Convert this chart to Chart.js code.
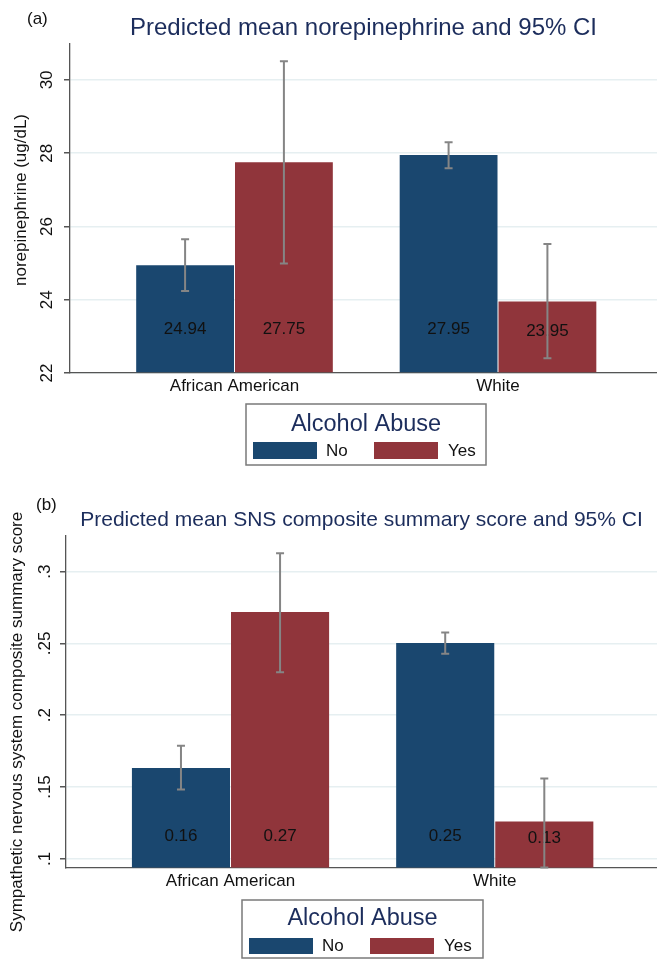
<!DOCTYPE html>
<html><head><meta charset="utf-8">
<script src="https://cdn.jsdelivr.net/npm/chart.js@4.4.1/dist/chart.umd.min.js"></script>
<style>
html,body{margin:0;padding:0;background:#fff;overflow:hidden;width:657px;height:960px}
#wa{position:absolute;left:0;top:0;width:657px;height:490px}
#wb{position:absolute;left:0;top:490px;width:657px;height:470px}
</style></head><body>
<div id="wa"><canvas id="ca"></canvas></div>
<div id="wb"><canvas id="cb"></canvas></div>
<script>
// ---- data ----
const categories = ['African American', 'White'];
const groupLabels = ['No', 'Yes'];
const legendTitle = 'Alcohol Abuse';

const neMeanNo  = [24.94, 27.95];
const neMeanYes = [27.75, 23.95];
const neLoNo  = [24.24, 27.59];
const neHiNo  = [25.65, 28.30];
const neLoYes = [24.99, 22.40];
const neHiYes = [30.51, 25.52];
const neTicks = [22, 24, 26, 28, 30];
const neTickLabels = ['22', '24', '26', '28', '30'];

const snsMeanNo  = [0.1633, 0.2502];
const snsMeanYes = [0.2718, 0.126];
const snsLoNo  = [0.1482, 0.2428];
const snsHiNo  = [0.1788, 0.2576];
const snsLoYes = [0.2300, 0.0940];
const snsHiYes = [0.3128, 0.1560];
const snsTicks = [0.1, 0.15, 0.2, 0.25, 0.3];
const snsTickLabels = ['.1', '.15', '.2', '.25', '.3'];

// ---- style ----
const FONT = "'Liberation Sans', Arial, sans-serif";
const NAVY = '#1a476f';
const MAROON = '#90353b';
const TITLE_COLOR = '#1c2d5c';
const AXIS_COLOR = '#555555';

const specs = {
  ca: {
    panel: '(a)', panelX: 27, panelY: 19,
    title: 'Predicted mean norepinephrine and 95% CI', titleSize: 24, titleY: 28,
    ytitle: 'norepinephrine (ug/dL)', ytitleX: 21, ytitleY: 200,
    ticks: neTicks, tickLabels: neTickLabels, tickLabelX: 47,
    ymin: 22, ymax: 30.98, axisX: 70, xmin: 0.3757, xmax: 2.6034,
    padTop: 44, padBottom: 87, labelAt: 23.2,
    no: neMeanNo, yes: neMeanYes, loNo: neLoNo, hiNo: neHiNo, loYes: neLoYes, hiYes: neHiYes,
    legend: {left: 246, top: 404, w: 240, h: 61, titleY: 425, swY: 442, swH: 17, textY: 451}
  },
  cb: {
    panel: '(b)', panelX: 36, panelY: 15,
    title: 'Predicted mean SNS composite summary score and 95% CI', titleSize: 21, titleY: 30,
    ytitle: 'Sympathetic nervous system composite summary score', ytitleX: 17, ytitleY: 232,
    ticks: snsTicks, tickLabels: snsTickLabels, tickLabelX: 45,
    ymin: 0.0938, ymax: 0.3248, axisX: 66, xmin: 0.3774, xmax: 2.614,
    padTop: 46, padBottom: 62.3, labelAt: 0.1155,
    no: snsMeanNo, yes: snsMeanYes, loNo: snsLoNo, hiNo: snsHiNo, loYes: snsLoYes, hiYes: snsHiYes,
    legend: {left: 242, top: 410, w: 241, h: 58, titleY: 429, swY: 448, swH: 16, textY: 456}
  }
};

const overlay = {
  id: 'overlay',
  afterDatasetsDraw(chart) {
    const sp = specs[chart.canvas.id];
    const ctx = chart.ctx, ys = chart.scales.y, ca = chart.chartArea;
    ctx.save();
    // value labels
    ctx.fillStyle = '#111';
    ctx.font = `17px ${FONT}`;
    ctx.textAlign = 'center';
    ctx.textBaseline = 'middle';
    chart.data.datasets.forEach((d, di) => {
      chart.getDatasetMeta(di).data.forEach((bar, i) => {
        const base = Math.min(bar.base, ca.bottom);
        const ly = Math.max(ys.getPixelForValue(sp.labelAt), (bar.y + base) / 2 - 6);
        ctx.fillText(d.data[i].y.toFixed(2), bar.x, ly);
      });
    });
    // error bars
    ctx.strokeStyle = '#858585';
    ctx.lineWidth = 2;
    chart.data.datasets.forEach((d, di) => {
      chart.getDatasetMeta(di).data.forEach((bar, i) => {
        const y1 = ys.getPixelForValue(d.lo[i]);
        const y2 = ys.getPixelForValue(d.hi[i]);
        ctx.beginPath();
        ctx.moveTo(bar.x, y1); ctx.lineTo(bar.x, y2);
        ctx.moveTo(bar.x - 4, y1); ctx.lineTo(bar.x + 4, y1);
        ctx.moveTo(bar.x - 4, y2); ctx.lineTo(bar.x + 4, y2);
        ctx.stroke();
      });
    });
    ctx.restore();
  },
  afterDraw(chart) {
    const sp = specs[chart.canvas.id];
    const ctx = chart.ctx, ys = chart.scales.y, ca = chart.chartArea;
    ctx.save();
    // panel label
    ctx.fillStyle = '#111';
    ctx.font = `17px ${FONT}`;
    ctx.textAlign = 'left'; ctx.textBaseline = 'middle';
    ctx.fillText(sp.panel, sp.panelX, sp.panelY);
    // title
    ctx.fillStyle = TITLE_COLOR;
    ctx.font = `${sp.titleSize}px ${FONT}`;
    ctx.textAlign = 'center';
    ctx.fillText(sp.title, (ca.left + ca.right) / 2, sp.titleY);
    // y title
    ctx.fillStyle = '#111';
    ctx.font = `17px ${FONT}`;
    ctx.save();
    ctx.translate(sp.ytitleX, sp.ytitleY);
    ctx.rotate(-Math.PI / 2);
    ctx.fillText(sp.ytitle, 0, 0);
    ctx.restore();
    // y tick labels (rotated)
    sp.ticks.forEach((v, i) => {
      ctx.save();
      ctx.translate(sp.tickLabelX, ys.getPixelForValue(v));
      ctx.rotate(-Math.PI / 2);
      ctx.fillText(sp.tickLabels[i], 0, 0);
      ctx.restore();
    });
    // legend
    const L = sp.legend;
    ctx.strokeStyle = '#7a7a7a';
    ctx.lineWidth = 1.5;
    ctx.strokeRect(L.left, L.top, L.w, L.h);
    ctx.fillStyle = TITLE_COLOR;
    ctx.font = `23.5px ${FONT}`;
    ctx.textAlign = 'center';
    ctx.fillText(legendTitle, L.left + L.w / 2, L.titleY);
    const offs = [[7, 80], [128, 202]];
    chart.data.datasets.forEach((d, di) => {
      ctx.fillStyle = d.backgroundColor;
      ctx.fillRect(L.left + offs[di][0], L.swY, 64, L.swH);
      ctx.fillStyle = '#111';
      ctx.font = `17px ${FONT}`;
      ctx.textAlign = 'left';
      ctx.fillText(d.label, L.left + offs[di][1], L.textY);
    });
    ctx.restore();
  }
};

function build(id) {
  const sp = specs[id];
  const mk = (vals, lo, hi, label, color) => ({
    label, backgroundColor: color, borderWidth: 0,
    categoryPercentage: 0.75, barPercentage: 0.99,
    base: sp.ymin,
    lo, hi,
    data: categories.map((c, i) => ({x: i + 1, y: vals[i]}))
  });
  return new Chart(document.getElementById(id), {
    type: 'bar',
    data: {datasets: [
      mk(sp.no, sp.loNo, sp.hiNo, groupLabels[0], NAVY),
      mk(sp.yes, sp.loYes, sp.hiYes, groupLabels[1], MAROON)
    ]},
    options: {
      responsive: true, maintainAspectRatio: false, animation: false,
      layout: {padding: {top: sp.padTop, bottom: sp.padBottom, left: 0, right: 0}},
      plugins: {legend: {display: false}, title: {display: false}, tooltip: {enabled: false}},
      scales: {
        x: {
          type: 'linear', min: sp.xmin, max: sp.xmax, offset: false,
          afterBuildTicks: s => { s.ticks = categories.map((c, i) => ({value: i + 1})); },
          afterFit: s => { s.height = 30; },
          grid: {display: false, offset: false, drawTicks: false, tickLength: 0},
          border: {display: true, color: AXIS_COLOR, width: 1.3},
          ticks: {autoSkip: false, maxRotation: 0, minRotation: 0, padding: 3, color: '#111',
                  font: {family: FONT, size: 17},
                  callback: v => categories[Math.round(v) - 1] || ''}
        },
        y: {
          type: 'linear', min: sp.ymin, max: sp.ymax,
          afterBuildTicks: s => { s.ticks = sp.ticks.map(v => ({value: v})); },
          afterFit: s => { s.width = sp.axisX; },
          grid: {color: '#e6eff1', lineWidth: 1.5, tickColor: AXIS_COLOR, tickLength: 6, drawTicks: true},
          border: {display: true, color: AXIS_COLOR, width: 1.3},
          ticks: {display: false}
        }
      }
    },
    plugins: [overlay]
  });
}
build('ca');
build('cb');
</script>
</body></html>
